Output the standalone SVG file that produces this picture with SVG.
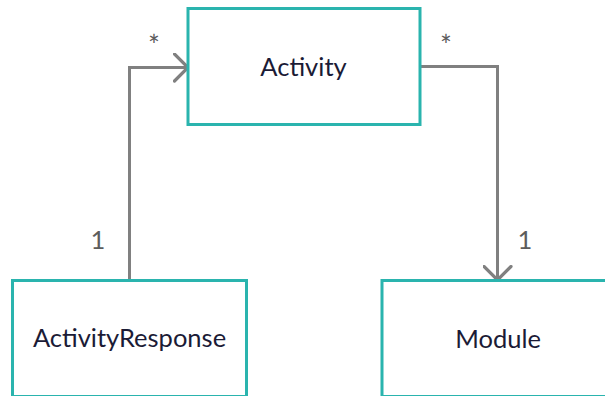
<svg xmlns="http://www.w3.org/2000/svg" width="605" height="396" viewBox="0 0 605 396">
  <defs>
    <marker id="open-arrow" viewBox="0 0 16 30" refX="15" refY="15" markerWidth="16" markerHeight="30" markerUnits="userSpaceOnUse" orient="auto">
      <path d="M1.5,1.5 L15,15 L1.5,28.5" fill="none" stroke="#808080" stroke-width="3.2" stroke-linecap="round" stroke-linejoin="round"/>
    </marker>
    <style>
      .box { fill: #ffffff; stroke: #2ab4ae; stroke-width: 3; }
      .name { font-family: Lato, "Liberation Sans", sans-serif; font-size: 25.5px; fill: #1b1b36; text-anchor: middle; }
      .link { fill: none; stroke: #808080; stroke-width: 3; marker-end: url(#open-arrow); }
      .mult { font-family: Lato, "Liberation Sans", sans-serif; fill: #5c5c5c; text-anchor: middle; }
      .one { font-size: 25.5px; }
      .many { font-size: 28px; }
    </style>
  </defs>
  <rect width="605" height="396" fill="#ffffff"/>

  <!-- associations -->
  <g id="connectors">
    <path class="link" d="M129.5,280 L129.5,67.5 L188,67.5"/>
    <path class="link" d="M420,66.5 L497.5,66.5 L497.5,280"/>
    <text class="mult many" x="154" y="56">*</text>
    <text class="mult one" x="98" y="248.5">1</text>
    <text class="mult many" x="446" y="56">*</text>
    <text class="mult one" x="525" y="248.5">1</text>
  </g>

  <g id="activity">
    <rect class="box" x="188" y="8.5" width="232" height="116"/>
    <text class="name" x="303.5" y="75.5">Activity</text>
  </g>

  <g id="activity-response">
    <rect class="box" x="12.5" y="280.5" width="234" height="116"/>
    <text class="name" x="129.5" y="347">ActivityResponse</text>
  </g>

  <g id="module">
    <rect class="box" x="382" y="280.5" width="234" height="116"/>
    <text class="name" x="498" y="347.5">Module</text>
  </g>
</svg>
